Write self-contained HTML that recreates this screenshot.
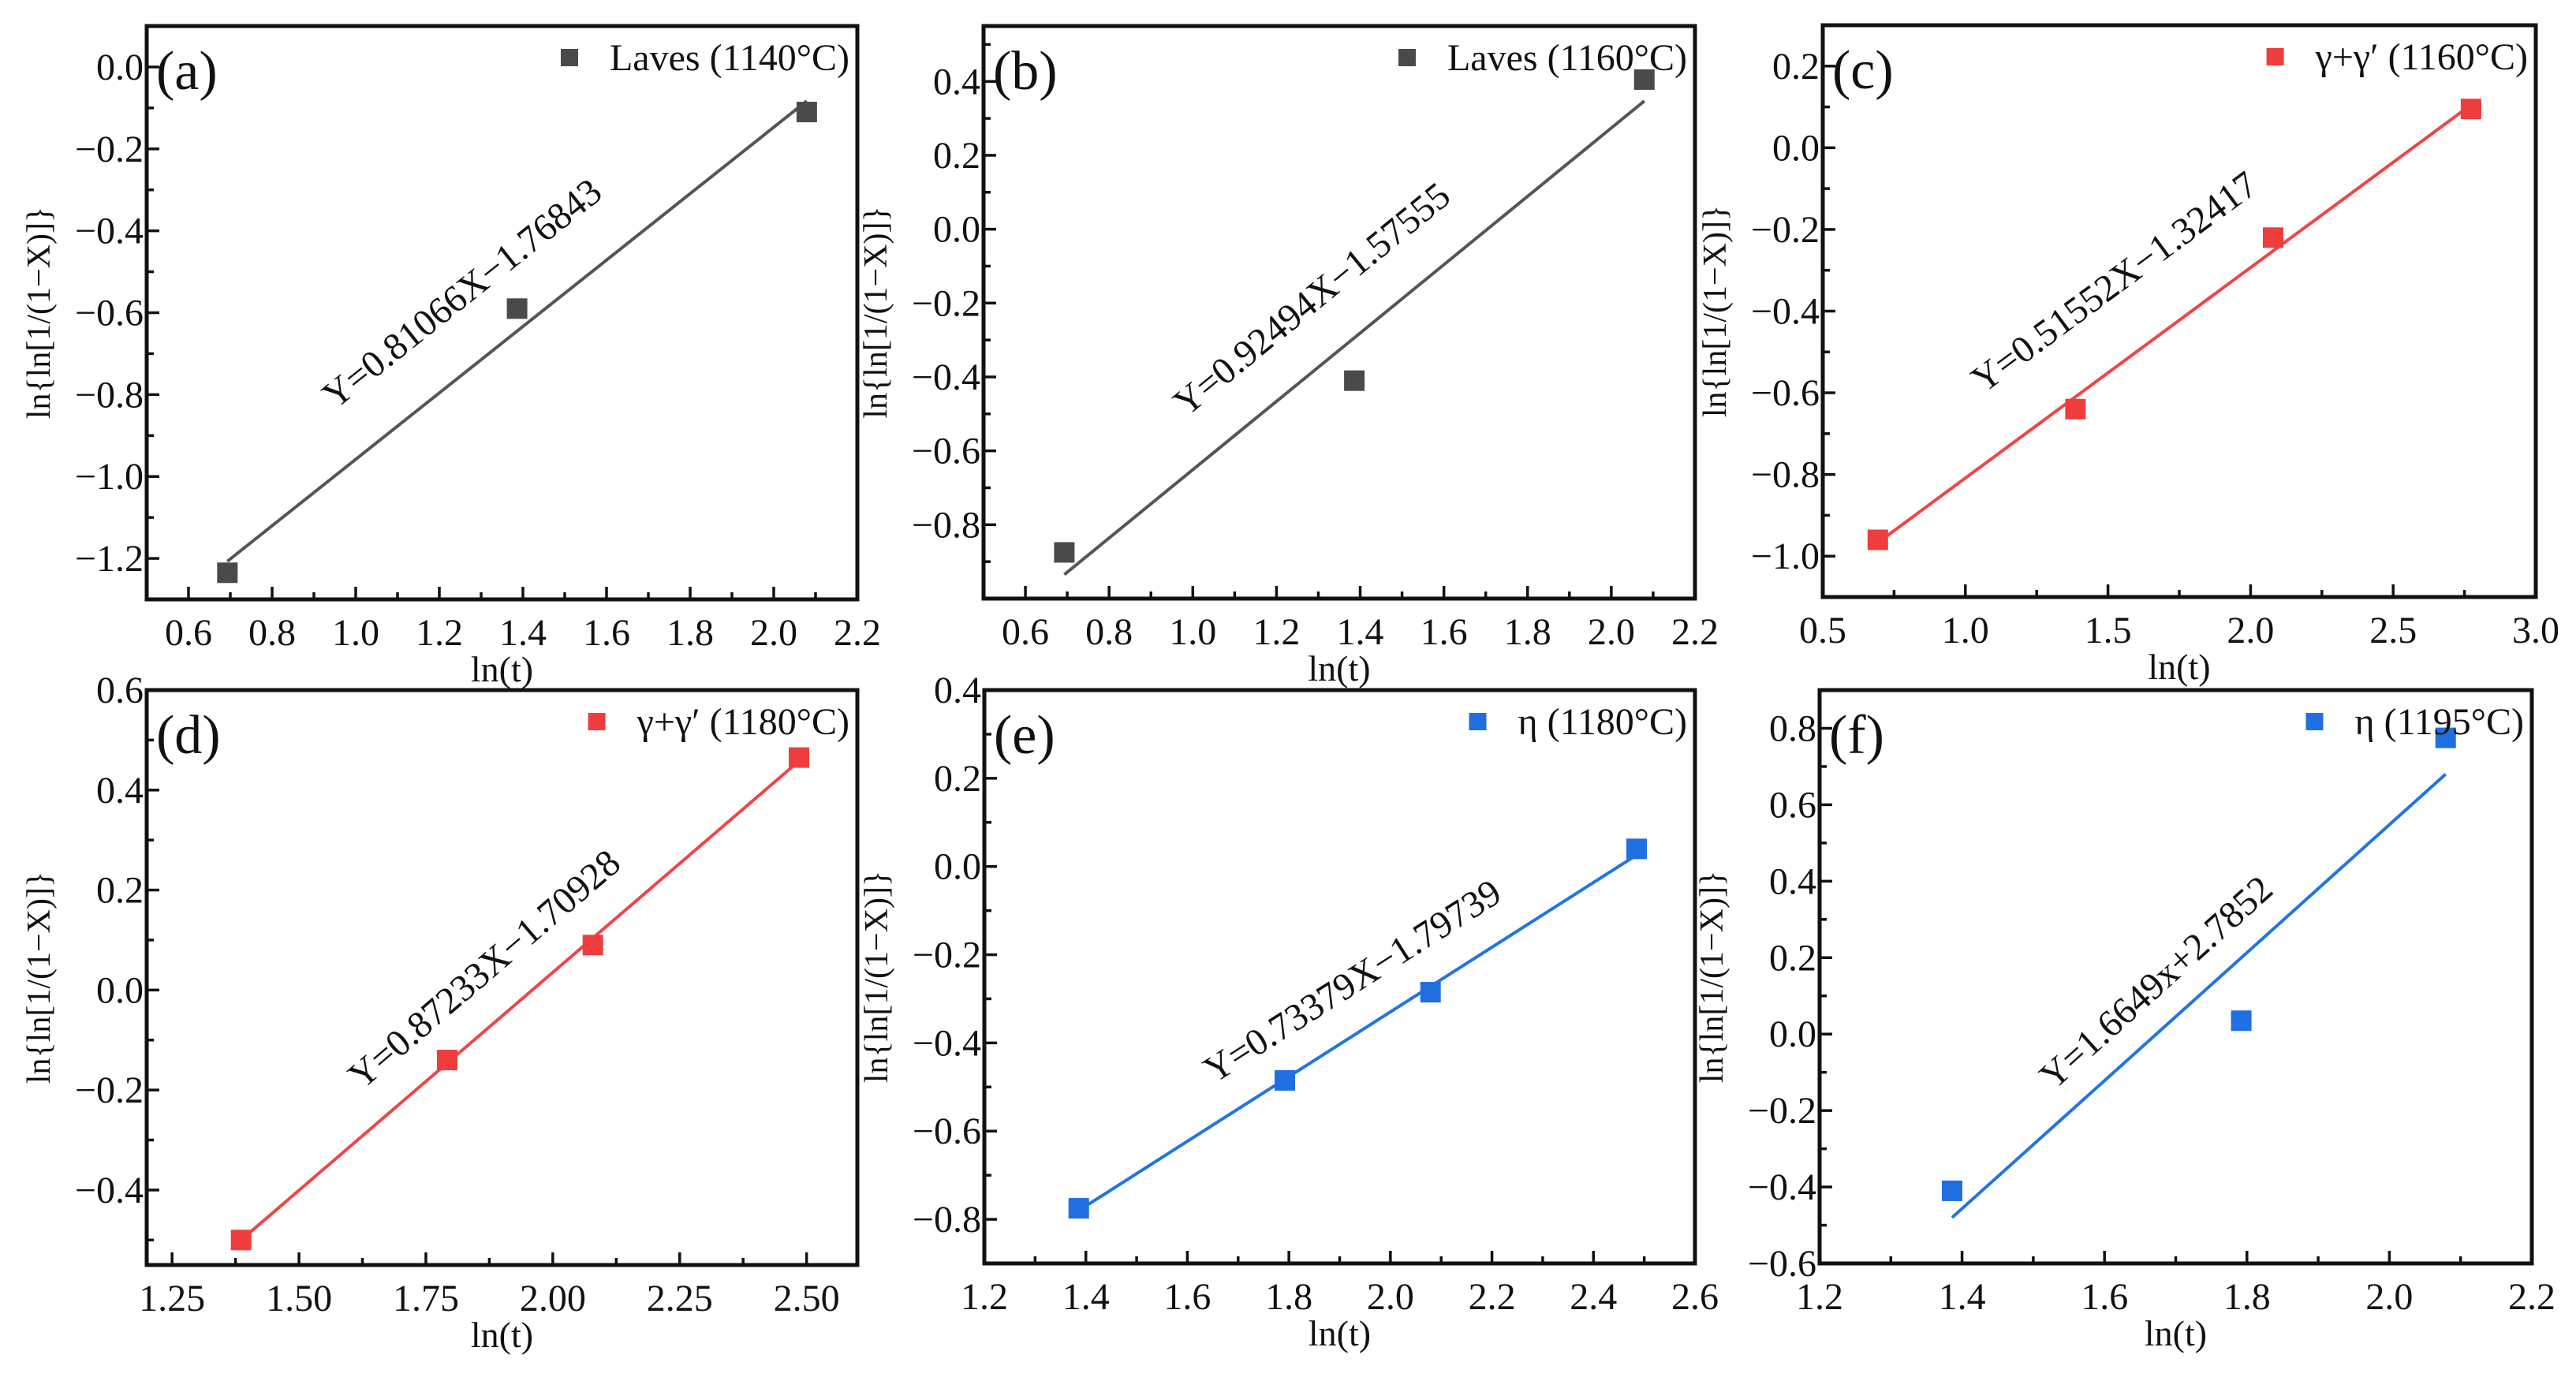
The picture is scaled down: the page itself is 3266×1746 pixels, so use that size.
<!DOCTYPE html>
<html><head><meta charset="utf-8"><style>
html,body{margin:0;padding:0;background:#fff;}
svg, svg text{font-family:"Liberation Serif","Times New Roman",serif;}
svg{display:block;}
</style></head><body>
<svg id="fig" width="3266" height="1746" viewBox="0 0 3266 1746" xmlns="http://www.w3.org/2000/svg" font-family="Liberation Serif, serif"></svg>
<script>
// ---- data ----
const panelLetters = ["(a)","(b)","(c)","(d)","(e)","(f)"];
const legendLabels = ["Laves (1140\u00B0C)","Laves (1160\u00B0C)","\u03B3+\u03B3\u2032 (1160\u00B0C)","\u03B3+\u03B3\u2032 (1180\u00B0C)","\u03B7 (1180\u00B0C)","\u03B7 (1195\u00B0C)"];
const equations = ["Y=0.81066X\u22121.76843","Y=0.92494X\u22121.57555","Y=0.51552X\u22121.32417","Y=0.87233X\u22121.70928","Y=0.73379X\u22121.79739","Y=1.6649x+2.7852"];
const ptsA_x = [0.693,1.386,2.079];        const ptsA_y = [-1.235,-0.59,-0.11];
const ptsB_x = [0.693,1.386,2.079];        const ptsB_y = [-0.875,-0.41,0.405];
const ptsC_x = [0.693,1.386,2.079,2.773];  const ptsC_y = [-0.96,-0.64,-0.22,0.095];
const ptsD_x = [1.386,1.792,2.079,2.485];  const ptsD_y = [-0.50,-0.14,0.09,0.465];
const ptsE_x = [1.386,1.792,2.079,2.485];  const ptsE_y = [-0.775,-0.485,-0.285,0.04];
const ptsF_x = [1.386,1.792,2.079];        const ptsF_y = [-0.41,0.035,0.775];
const fitA = [[0.693,-1.207],[2.079,-0.083]];
const fitB = [[0.693,-0.935],[2.079,0.347]];
const fitC = [[0.693,-0.967],[2.773,0.105]];
const fitD = [[1.386,-0.500],[2.485,0.458]];
const fitE = [[1.386,-0.780],[2.485,0.026]];
const fitF = [[1.386,-0.48],[2.079,0.68]];
const labelPosA = [1.26,-0.56];  const labelPosB = [1.29,-0.197]; const labelPosC = [1.53,-0.336];
const labelPosD = [1.87,0.036];  const labelPosE = [1.929,-0.267]; const labelPosF = [1.676,0.128];
const xTicksA = [0.6,0.8,1.0,1.2,1.4,1.6,1.8,2.0,2.2]; const yTicksA = [0.0,-0.2,-0.4,-0.6,-0.8,-1.0,-1.2];
const xTicksB = [0.6,0.8,1.0,1.2,1.4,1.6,1.8,2.0,2.2]; const yTicksB = [0.4,0.2,0.0,-0.2,-0.4,-0.6,-0.8];
const xTicksC = [0.5,1.0,1.5,2.0,2.5,3.0];             const yTicksC = [0.2,0.0,-0.2,-0.4,-0.6,-0.8,-1.0];
const xTicksD = [1.25,1.50,1.75,2.00,2.25,2.50];       const yTicksD = [0.6,0.4,0.2,0.0,-0.2,-0.4];
const xTicksE = [1.2,1.4,1.6,1.8,2.0,2.2,2.4,2.6];     const yTicksE = [0.4,0.2,0.0,-0.2,-0.4,-0.6,-0.8];
const xTicksF = [1.2,1.4,1.6,1.8,2.0,2.2];             const yTicksF = [0.8,0.6,0.4,0.2,0.0,-0.2,-0.4,-0.6];
const xRanges = [[0.5,2.2],[0.5,2.2],[0.5,3.0],[1.2,2.6],[1.2,2.6],[1.2,2.2]];
const yRanges = [[-1.3,0.1],[-1.0,0.55],[-1.1,0.3],[-0.55,0.6],[-0.9,0.4],[-0.6,0.9]];
const xDec = [1,1,1,2,1,1];

const boxes = [[186,33,1087,760],[1247,33,2149,759],[2311,32,3215,757],[186,875,1087,1604],[1248,875,2149,1602],[2307,875,3210,1602]];
const colors = ["#4a4a4a","#4a4a4a","#ef3d3d","#ef3d3d","#1f6fe0","#1f6fe0"];
const lineColors = ["#555555","#555555","#f04545","#f04545","#2274e3","#2274e3"];
const allPx=[ptsA_x,ptsB_x,ptsC_x,ptsD_x,ptsE_x,ptsF_x], allPy=[ptsA_y,ptsB_y,ptsC_y,ptsD_y,ptsE_y,ptsF_y];
const fits=[fitA,fitB,fitC,fitD,fitE,fitF], labs=[labelPosA,labelPosB,labelPosC,labelPosD,labelPosE,labelPosF];
const xT=[xTicksA,xTicksB,xTicksC,xTicksD,xTicksE,xTicksF], yT=[yTicksA,yTicksB,yTicksC,yTicksD,yTicksE,yTicksF];
const NS="http://www.w3.org/2000/svg", svg=document.getElementById('fig');
const FF='"Liberation Serif", "Times New Roman", serif';
function mk(tag,attrs,parent,text){const e=document.createElementNS(NS,tag);for(const k in attrs)e.setAttribute(k,attrs[k]);if(text!==undefined){e.textContent=text;e.setAttribute('font-family',FF);e.style.fontFamily=FF;}parent.appendChild(e);return e;}
function fmt(v,d){let s=v.toFixed(d);return s.replace('-','\u2212');}
for(let p=0;p<6;p++){
  const [L,T,R,B]=boxes[p],[x0,x1]=xRanges[p],[y0,y1]=yRanges[p];
  const sx=v=>L+(v-x0)/(x1-x0)*(R-L), sy=v=>B-(v-y0)/(y1-y0)*(B-T);
  const g=mk('g',{},svg);
  
  
  const xt=xT[p], yt=yT[p];
  const xstep=xt[1]-xt[0], ystep=yt[0]-yt[1];
  const tg=mk('g',{stroke:'#111','stroke-width':3.5},g);
  
  
  for(let v=xt[0]-xstep;v<=x1+1e-9;v+=xstep/2){ if(v<x0-1e-9)continue; const major=Math.abs(((v-xt[0])/xstep)-Math.round((v-xt[0])/xstep))<1e-6; const X=sx(v); mk('line',{x1:X,y1:B,x2:X,y2:B-(major?16:9)},tg);}
  for(let v=yt[yt.length-1]-ystep;v<=y1+1e-9;v+=ystep/2){ if(v<y0-1e-9)continue; const major=Math.abs(((v-yt[0])/ystep)-Math.round((v-yt[0])/ystep))<1e-6; const Y=sy(v); mk('line',{x1:L,y1:Y,x2:L+(major?16:9),y2:Y},tg);}
  xt.forEach(v=>{const t=mk('text',{x:sx(v),y:B+58,'font-size':48,'text-anchor':'middle',fill:'#111'},g,fmt(v,xDec[p]));
    
    });
  yt.forEach(v=>{const t=mk('text',{x:L-4,y:sy(v)+16,'font-size':48,'text-anchor':'end',fill:'#111'},g,fmt(v,1));
    
    });
  const xtl=mk('text',{x:(L+R)/2,y:B+104,'font-size':46,'text-anchor':'middle',fill:'#111'},g,'ln(t)');
  
  
  const ytl=mk('text',{x:0,y:0,'font-size':42,'text-anchor':'middle',fill:'#111',transform:`translate(${L-123},${(T+B)/2}) rotate(-90)`},g,'ln{ln[1/(1\u2212X)]}');
  
  
  const f=fits[p];
  const fl=mk('line',{x1:sx(f[0][0]),y1:sy(f[0][1]),x2:sx(f[1][0]),y2:sy(f[1][1]),stroke:lineColors[p],'stroke-width':4},g);
  
  
  allPx[p].forEach((xv,i)=>{const r=mk('rect',{x:sx(xv)-13,y:sy(allPy[p][i])-13,width:26,height:26,fill:colors[p]},g);
    
    });
  const ang=Math.atan2(sy(f[1][1])-sy(f[0][1]),sx(f[1][0])-sx(f[0][0]))*180/Math.PI;
  const lp=labs[p];
  const eq=mk('text',{x:0,y:0,'font-size':48,'text-anchor':'middle','dominant-baseline':'middle',fill:'#111',transform:`translate(${sx(lp[0])},${sy(lp[1])}) rotate(${ang})`},g,equations[p]);
  
  
  const pl=mk('text',{x:L+12,y:T+80,'font-size':70,fill:'#111'},g,panelLetters[p]);
  
  
  const lt=mk('text',{x:R-10,y:T+56,'font-size':48,'text-anchor':'end',fill:'#111'},g,legendLabels[p]);
  
  
  const w=lt.getComputedTextLength();
  const lm=mk('rect',{x:R-10-w-62,y:T+29,width:22,height:22,fill:colors[p]},g);
  
  
  const fr=mk('rect',{x:L,y:T,width:R-L,height:B-T,fill:'none',stroke:'#111','stroke-width':5},g);
  
  
}
</script>
</body></html>
